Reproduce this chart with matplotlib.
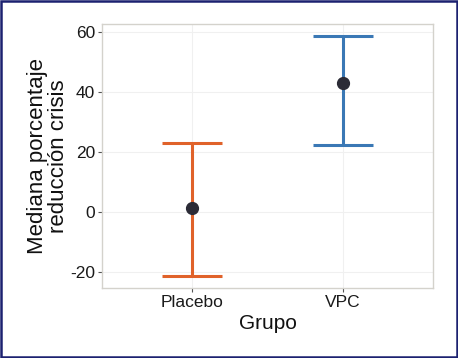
import numpy as np
import matplotlib
matplotlib.use('Agg')
import matplotlib.pyplot as plt
from matplotlib.patches import Rectangle

plt.rcParams['font.family'] = ['Liberation Sans', 'DejaVu Sans']
plt.rcParams['axes.unicode_minus'] = False

grupos   = ['Placebo', 'VPC']
mediana  = [1.3, 43.0]
ic_bajo  = [-21.3, 22.4]
ic_alto  = [23.0, 58.8]
colores  = ['#E0622A', '#3A78B5']

fig = plt.figure(figsize=(4.58, 3.58), dpi=100)
ax = fig.add_axes([0.2227, 0.1955, 0.7227, 0.7375])

x = np.arange(1, len(grupos) + 1)
for i in range(len(grupos)):
  ax.errorbar(x[i], mediana[i],
              yerr=[[mediana[i] - ic_bajo[i]], [ic_alto[i] - mediana[i]]],
              fmt='none', ecolor=colores[i], elinewidth=2.2,
              capsize=21.5, capthick=2.2, zorder=2)
ax.plot(x, mediana, 'o', color='#2b2b36', markersize=8.5, zorder=3)

ax.set_xlim(0.4, 2.6)
ax.set_ylim(-25.3, 62.7)
ax.set_xticks(x)
ax.set_xticklabels(grupos)
ax.set_yticks([-20, 0, 20, 40, 60])

ax.grid(True, color='#f0f0f0', linewidth=0.8)
ax.set_axisbelow(True)
for s in ax.spines.values():
  s.set_color('#d4d2cc')
  s.set_linewidth(1.0)
ax.tick_params(colors='#555555', length=3, width=0.8, labelsize=12.5,
               labelcolor='#1a1a1a', pad=2)

ax.set_xlabel('Grupo', fontsize=15, color='#111111', labelpad=3)
ax.set_ylabel('Mediana porcentaje\nreducción crisis', fontsize=16,
              color='#111111', labelpad=0.5, linespacing=1.0)

fig.patches.append(Rectangle((0.002, 0.003), 0.996, 0.994, transform=fig.transFigure,
                             fill=False, edgecolor='#1c2170', linewidth=1.8))

fig.savefig('out.png', dpi=100)
